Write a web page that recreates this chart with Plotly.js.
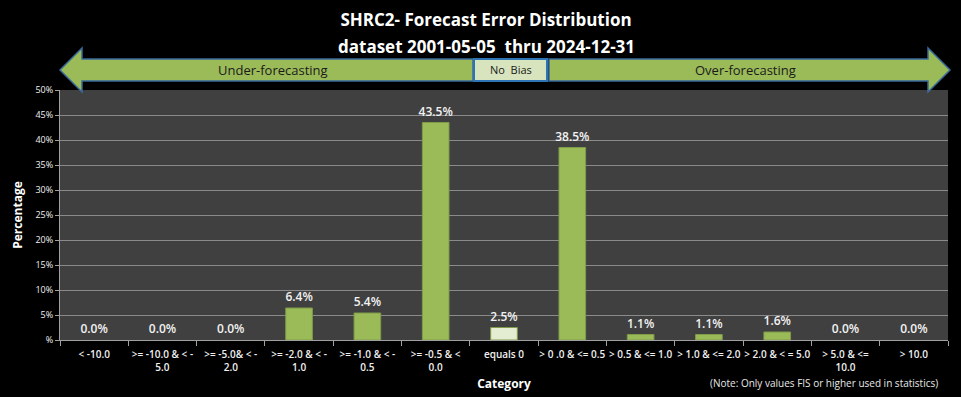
<!DOCTYPE html>
<html>
<head>
<meta charset="utf-8">
<script src="https://cdn.plot.ly/plotly-3.0.1.min.js"></script>
<style>html,body{margin:0;padding:0;background:#000;}#chart{width:961px;height:397px;}</style>
</head>
<body>
<div id="chart"></div>
<script>
const categories = [
  "< -10.0",
  ">= -10.0 & < -<br>5.0",
  ">= -5.0& < -<br>2.0",
  ">= -2.0 & < -<br>1.0",
  ">= -1.0 & < -<br>0.5",
  ">= -0.5 & <<br>0.0",
  "equals 0",
  "> 0 .0 & <= 0.5",
  "> 0.5 & <= 1.0",
  "> 1.0 & <= 2.0",
  "> 2.0 & < = 5.0",
  "> 5.0 & <=<br>10.0",
  "> 10.0"
];
const percentages = [0.0, 0.0, 0.0, 6.4, 5.4, 43.5, 2.5, 38.5, 1.1, 1.1, 1.6, 0.0, 0.0];
const yTickVals = [0, 5, 10, 15, 20, 25, 30, 35, 40, 45, 50];
const yTickText = ["%", "5%", "10%", "15%", "20%", "25%", "30%", "35%", "40%", "45%", "50%"];
const titleLine1 = "SHRC2- Forecast Error Distribution";
const titleLine2 = "dataset 2001-05-05  thru 2024-12-31";

// layout geometry (pixels)
const W = 961, H = 397;
const mL = 60, mR = 13, mT = 90, mB = 57;
const pw = W - mL - mR, ph = H - mT - mB;
const px = x => (x - mL) / pw;
const py = y => (H - mB - y) / ph;
const P = pts => "M " + pts.map(p => px(p[0]).toFixed(5) + "," + py(p[1]).toFixed(5)).join(" L ") + " Z";

const barColors = categories.map((c, i) => i === 6 ? "#e4ecd2" : "#9bbb59");
const lineWidths = percentages.map(v => v > 0 ? 1 : 0);
const FONT = "Open Sans, sans-serif";

const trace = {
  type: "bar",
  x: categories,
  y: percentages,
  marker: { color: barColors, line: { color: "#7f9a48", width: lineWidths } },
  text: percentages.map(v => v.toFixed(1) + "%"),
  textposition: "outside",
  constraintext: "none",
  cliponaxis: false,
  textfont: { family: FONT, size: 12, color: "#f2f2f2", weight: 600 },
  hoverinfo: "none"
};

const shapes = [
  { type: "path", xref: "paper", yref: "paper", layer: "below",
    path: P([[60,70],[82,48],[82,59],[473,59],[473,81],[82,81],[82,92]]),
    fillcolor: "#9bbb59", line: { color: "#3a6a9a", width: 1.5 } },
  { type: "rect", xref: "paper", yref: "paper", layer: "below",
    x0: px(474), x1: px(547), y0: py(81), y1: py(59),
    fillcolor: "#d7e4bd", line: { color: "#2c74b3", width: 2 } },
  { type: "path", xref: "paper", yref: "paper", layer: "below",
    path: P([[549,59],[928,59],[928,48],[950,70],[928,92],[928,81],[549,81]]),
    fillcolor: "#9bbb59", line: { color: "#3a6a9a", width: 1.5 } }
];

const annotations = [
  { text: "<b>" + titleLine2 + "</b>", xref: "paper", yref: "paper", x: px(486), y: py(46),
    xanchor: "center", yanchor: "middle", showarrow: false,
    font: { family: FONT, size: 17, color: "#ffffff" } },
  { text: "Under-forecasting", xref: "paper", yref: "paper", x: px(273), y: py(70),
    xanchor: "center", yanchor: "middle",
    showarrow: false, font: { family: FONT, size: 13, color: "#1a1a1a" } },
  { text: "No  Bias", xref: "paper", yref: "paper", x: px(511), y: py(70),
    xanchor: "center", yanchor: "middle",
    showarrow: false, font: { family: FONT, size: 11, color: "#1a1a1a" } },
  { text: "Over-forecasting", xref: "paper", yref: "paper", x: px(745), y: py(70),
    xanchor: "center", yanchor: "middle",
    showarrow: false, font: { family: FONT, size: 13, color: "#1a1a1a" } },
  { text: "(Note: Only values FIS or higher used in statistics)", xref: "paper", yref: "paper",
    x: px(940), y: py(383), xanchor: "right", yanchor: "middle", showarrow: false,
    font: { family: FONT, size: 10, color: "#e8e8e8" } }
];

const layout = {
  width: W, height: H,
  paper_bgcolor: "#000000",
  plot_bgcolor: "#404040",
  margin: { l: mL, r: mR, t: mT, b: mB, pad: 0 },
  showlegend: false,
  bargap: 0.61,
  title: {
    text: "<b>" + titleLine1 + "</b>",
    x: px(486), xref: "paper", xanchor: "center",
    y: 1 - 20 / H, yref: "container", yanchor: "middle",
    font: { family: FONT, size: 17, color: "#ffffff" }
  },
  xaxis: {
    type: "category",
    tickson: "boundaries",
    ticks: "outside", ticklen: 5, tickcolor: "#a0a0a0",
    ticklabelstandoff: 5,
    showline: true, linecolor: "#a0a0a0", linewidth: 1,
    showgrid: false,
    tickfont: { family: FONT, size: 10, color: "#f0f0f0", weight: 600 },
    tickangle: 0,
    title: { text: "<b>Category</b>", standoff: 6,
      font: { family: FONT, size: 12, color: "#ffffff" } },
    fixedrange: true
  },
  yaxis: {
    range: [0, 50],
    tickvals: yTickVals, ticktext: yTickText,
    ticks: "outside", ticklen: 4, tickcolor: "#a0a0a0",
    showline: true, linecolor: "#a0a0a0", linewidth: 1,
    showgrid: true, gridcolor: "#8a8a8a", gridwidth: 1,
    zeroline: false,
    tickfont: { family: FONT, size: 9, color: "#f0f0f0" },
    title: { text: "<b>Percentage</b>", standoff: 10,
      font: { family: FONT, size: 12, color: "#ffffff" } },
    fixedrange: true
  },
  shapes: shapes,
  annotations: annotations
};

Plotly.newPlot("chart", [trace], layout, { displayModeBar: false, staticPlot: true });
</script>
</body>
</html>
